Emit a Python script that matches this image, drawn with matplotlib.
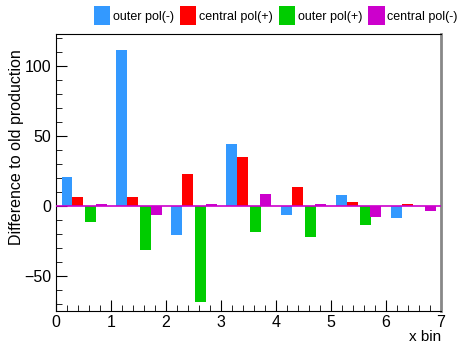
import numpy as np
import matplotlib
matplotlib.use("Agg")
import matplotlib.pyplot as plt
from matplotlib.ticker import MultipleLocator

plt.rcParams['font.family'] = ['Liberation Sans', 'DejaVu Sans']

bins = [0, 1, 2, 3, 4, 5, 6]
series = ["outer pol(-)", "central pol(+)", "outer pol(+)", "central pol(-)"]
outer_minus = [20.7, 111.0, -21.0, 44.2, -6.2, 7.8, -9.0]
central_plus = [6.4, 6.5, 22.8, 35.0, 13.5, 2.9, 1.0]
outer_plus = [-11.2, -31.4, -68.4, -19.0, -22.0, -14.0, 0.0]
central_minus = [1.5, -6.9, 1.0, 8.6, 1.0, -8.3, -4.0]
colors = ["#3399ff", "#ff0000", "#00cc00", "#cc00cc"]
offsets = [0.2, 0.4, 0.63, 0.82]

fig = plt.figure(figsize=(4.64, 3.46), dpi=100)
ax = fig.add_axes([0.1207, 0.1012, 0.8293, 0.8005])

x = np.array(bins)
for vals, col, off, name in zip([outer_minus, central_plus, outer_plus, central_minus],
                                colors, offsets, series):
    ax.bar(x + off, vals, width=0.2, color=col, label=name, zorder=2)

ax.axhline(0, color="#cc00cc", lw=1.2, zorder=3)

ax.set_xlim(0, 7)
ax.set_ylim(-75, 122.5)
ax.xaxis.set_major_locator(MultipleLocator(1))
ax.xaxis.set_minor_locator(MultipleLocator(0.2))
ax.yaxis.set_major_locator(MultipleLocator(50))
ax.yaxis.set_minor_locator(MultipleLocator(10))
ax.tick_params(which="both", direction="in", top=False, right=False, labelsize=11.5)
ax.tick_params(which="major", length=8)
ax.tick_params(which="minor", length=4)
ax.tick_params(axis="x", pad=3)
ax.spines["right"].set_color("#888888")
ax.spines["right"].set_linewidth(2)

ax.set_ylabel("Difference to old production", fontsize=11.5)
ax.yaxis.set_label_coords(-0.083, 0.59)
ax.set_xlabel("x bin", fontsize=11)
ax.xaxis.set_label_coords(1.0, -0.068)
ax.xaxis.label.set_horizontalalignment("right")

fig.legend(loc="upper right", bbox_to_anchor=(1.01, 1.015), ncol=4, frameon=False,
           fontsize=9, handlelength=1.3, handleheight=2.0, handletextpad=0.2,
           columnspacing=0.5)

fig.savefig("out.png", dpi=100)
